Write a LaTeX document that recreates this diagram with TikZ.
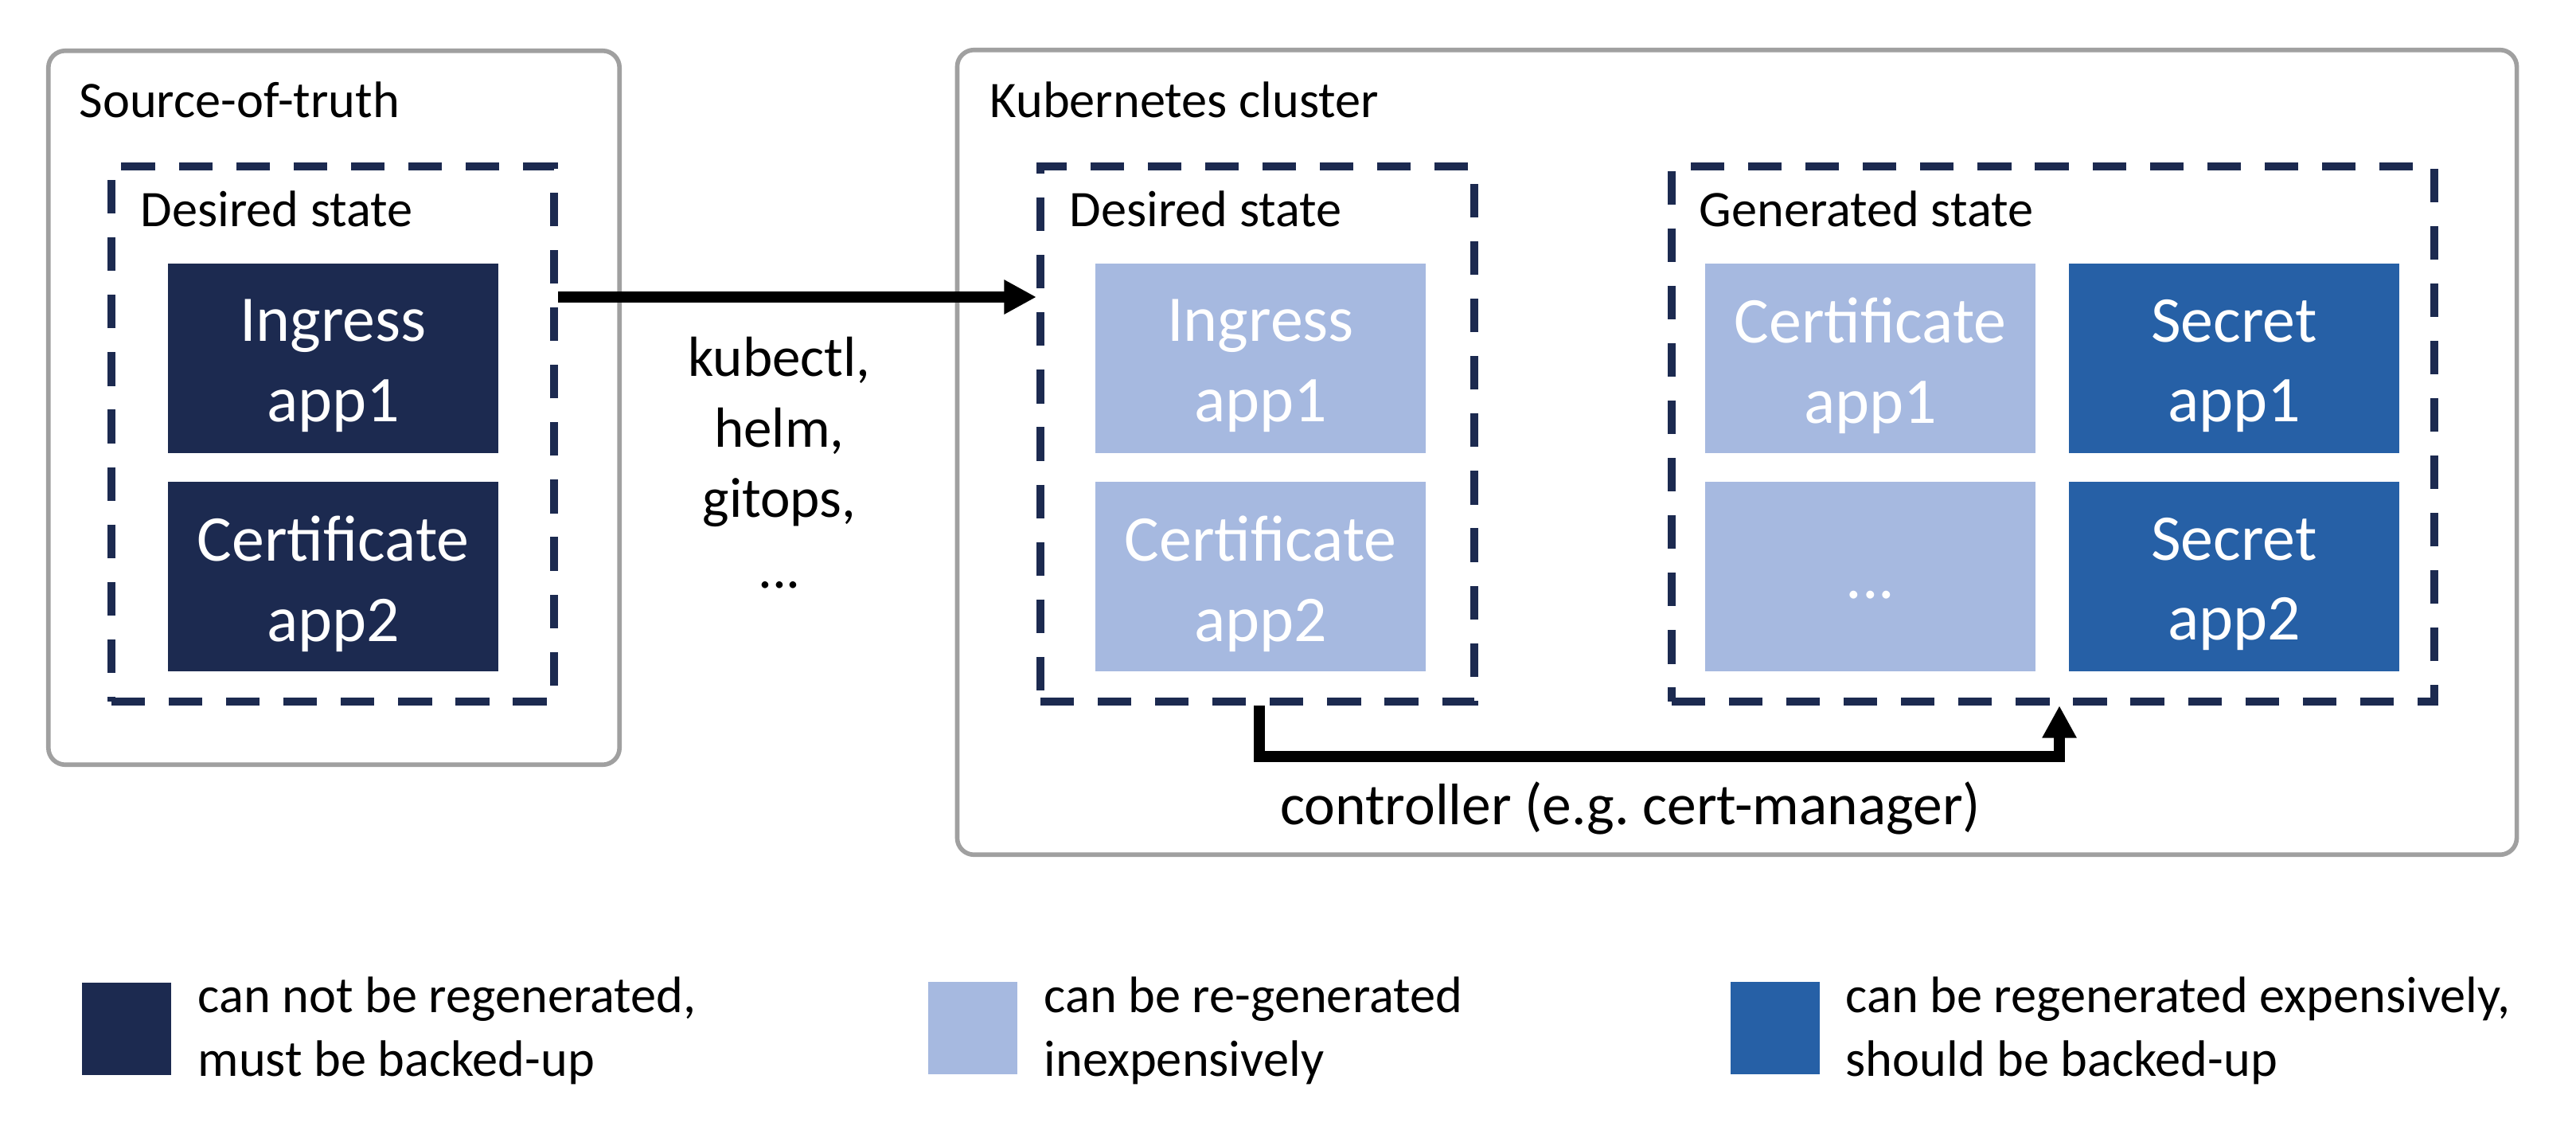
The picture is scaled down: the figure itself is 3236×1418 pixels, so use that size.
\documentclass[tikz,border=0pt]{standalone}
\usepackage{fontspec}
\setmainfont{Carlito}
\usetikzlibrary{arrows.meta}
\frenchspacing
\definecolor{navy}{RGB}{28,42,80}
\definecolor{lightb}{RGB}{166,185,224}
\definecolor{midb}{RGB}{38,96,166}
\definecolor{gborder}{RGB}{160,160,160}
\tikzset{
  outerbox/.style={draw=gborder, line width=1.6pt, rounded corners=6pt},
  dashbox/.style={draw=navy, line width=2.8pt, dash pattern=on 12pt off 8.5pt},
  item/.style={inner sep=0pt, minimum width=4.15cm, minimum height=2.37cm},
  itemtext/.style={text=white, font=\fontsize{23.3}{28.6}\selectfont, align=center, inner sep=0pt},
  title/.style={anchor=base west, inner sep=0pt, font=\fontsize{18.3}{22}\selectfont},
  lab/.style={inner sep=0pt, font=\fontsize{20.2}{25.3}\selectfont, align=center},
  ctrlfont/.style={inner sep=0pt, font=\fontsize{20.9}{25.3}\selectfont},
  legtext/.style={inner sep=0pt, anchor=north west, font=\fontsize{18.3}{22.8}\selectfont, align=left},
  legsq/.style={inner sep=0pt, minimum width=1.12cm, minimum height=1.15cm},
  arr/.style={draw=black, line width=3.8pt, -{Triangle[length=11.5pt,width=11.5pt]}}
}
\begin{document}
\begin{tikzpicture}[x=0.01cm,y=-0.01cm]
\useasboundingbox (0,0) rectangle (3236,1418);
% outer boxes
\node[outerbox, inner sep=0pt, minimum width=7.17cm, minimum height=8.96cm] (src) at (419.5,512) {};
\node[outerbox, inner sep=0pt, minimum width=19.58cm, minimum height=10.10cm] (k8s) at (2182,568) {};
\node[title] (srct) at (99,147) {Source-of-truth};
\node[title] (k8st) at (1243,147) {Kubernetes cluster};
% dashed boxes
\node[dashbox, inner sep=0pt, minimum width=5.56cm, minimum height=6.72cm] (sdes) at (418,545) {};
\node[dashbox, inner sep=0pt, minimum width=5.45cm, minimum height=6.72cm] (kdes) at (1579.5,545) {};
\node[dashbox, inner sep=0pt, minimum width=9.58cm, minimum height=6.72cm] (gen) at (2579,545) {};
\node[title] (sdest) at (176,284) {Desired state};
\node[title] (kdest) at (1343,284) {Desired state};
\node[title] (gent) at (2134,284) {Generated state};
% source items
\node[item, fill=navy] (s1) at (418.5,450) {};
\node[itemtext] (s1t) at ([yshift=-2.7pt]s1.center) {Ingress\\app1};
\node[item, fill=navy] (s2) at (418.5,724) {};
\node[itemtext] (s2t) at ([yshift=-2.7pt]s2.center) {Certificate\\app2};
% k8s desired items
\node[item, fill=lightb] (k1) at (1583.5,450) {};
\node[itemtext] (k1t) at ([yshift=-2.7pt]k1.center) {Ingress\\app1};
\node[item, fill=lightb] (k2) at (1583.5,724) {};
\node[itemtext] (k2t) at ([yshift=-2.7pt]k2.center) {Certificate\\app2};
% generated items
\node[item, fill=lightb] (g1) at (2349.5,450) {};
\node[itemtext] (g1t) at ([yshift=-2.7pt]g1.center) {Certificate\\app1};
\node[item, fill=midb] (g2) at (2806.5,450) {};
\node[itemtext] (g2t) at ([yshift=-2.7pt]g2.center) {Secret\\app1};
\node[item, fill=lightb] (g3) at (2349.5,724) {};
\node[itemtext] (g3t) at ([yshift=-6.5pt]g3.center) {...};
\node[item, fill=midb] (g4) at (2806.5,724) {};
\node[itemtext] (g4t) at ([yshift=-2.7pt]g4.center) {Secret\\app2};
% arrows
\coordinate (a1) at (0,373);
\draw[arr] (sdes.east |- a1) -- (kdes.west |- a1);
\node[lab, anchor=north] (tools) at (979,422) {kubectl,\\helm,\\gitops,\\...};
\coordinate (c1) at (1582,950);
\coordinate (c2) at (2587,950);
\draw[arr] (kdes.south -| c1) -- (c1) -- (c2) -- (gen.south -| c2);
\node[ctrlfont, anchor=base] (ctrl) at (2048,1035) {controller (e.g. cert-manager)};
% legend
\node[legsq, fill=navy] (l1) at (159,1292) {};
\node[legtext] (l1t) at (248,1226) {can not be regenerated,\\must be backed-up};
\node[legsq, fill=lightb] (l2) at (1222,1291) {};
\node[legtext] (l2t) at (1311,1226) {can be re-generated\\inexpensively};
\node[legsq, fill=midb] (l3) at (2230,1291) {};
\node[legtext] (l3t) at (2318,1226) {can be regenerated expensively,\\should be backed-up};
\end{tikzpicture}
\end{document}
